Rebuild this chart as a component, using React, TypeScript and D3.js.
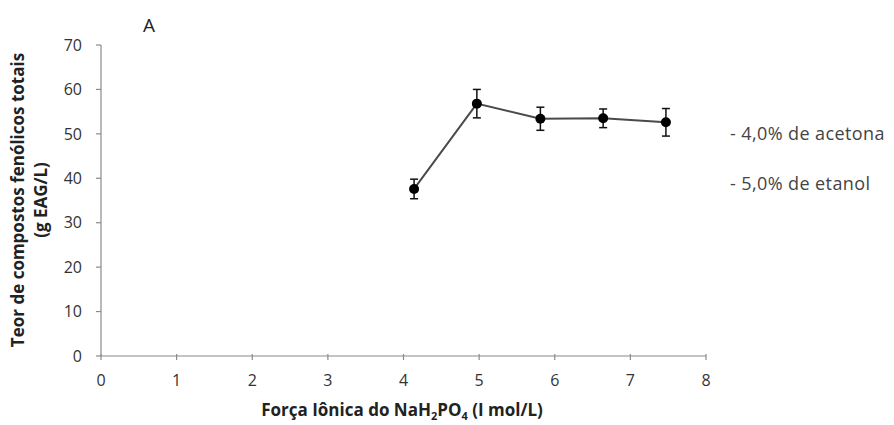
import React from "react";
import * as d3 from "d3";

// Ionic strength of NaH2PO4 (I mol/L) and total phenolic content (g EAG/L)
const ionicStrength = [4.14, 4.97, 5.81, 6.64, 7.47];
const phenolics = [37.6, 56.8, 53.4, 53.5, 52.6];
const errors = [2.2, 3.2, 2.6, 2.1, 3.1];
const xTicks = [0, 1, 2, 3, 4, 5, 6, 7, 8];
const yTicks = [0, 10, 20, 30, 40, 50, 60, 70];
const notes = ["- 4,0% de acetona", "- 5,0% de etanol"];

const W = 894;
const H = 425;
const left = 101;
const right = 706;
const top = 45;
const bottom = 356;

export default function App() {
  const x = d3.scaleLinear().domain([0, 8]).range([left, right]);
  const y = d3.scaleLinear().domain([0, 70]).range([bottom, top]);
  const pts = ionicStrength.map((v, i) => ({ x: v, y: phenolics[i], e: errors[i] }));
  const line = d3
    .line<{ x: number; y: number }>()
    .x((d) => x(d.x))
    .y((d) => y(d.y));
  const font = "Open Sans, sans-serif";
  const axisColor = "#8a8a8a";
  const textColor = "#333";

  return (
    <svg
      width={W}
      height={H}
      style={{ position: "absolute", left: 0, top: 0, background: "#fff" }}
      fontFamily={font}
    >
      <text x={149} y={32} fontSize={19} fill="#222" textAnchor="middle">A</text>

      {/* axes */}
      <line x1={left} x2={left} y1={y(70)} y2={y(0)} stroke={axisColor} strokeWidth={1.2} />
      <line x1={left} x2={right} y1={y(0)} y2={y(0)} stroke={axisColor} strokeWidth={1.2} />
      {yTicks.map((t) => (
        <g key={"y" + t}>
          <line x1={left - 5} x2={left} y1={y(t)} y2={y(t)} stroke={axisColor} strokeWidth={1.2} />
          <text x={82} y={y(t)} dy="0.36em" fontSize={16} fill={textColor} textAnchor="end">{t}</text>
        </g>
      ))}
      {xTicks.map((t) => (
        <g key={"x" + t}>
          <line x1={x(t)} x2={x(t)} y1={y(0) - 2} y2={y(0) + 4} stroke={axisColor} strokeWidth={1.2} />
          <text x={x(t)} y={y(0) + 30} fontSize={16} fill={textColor} textAnchor="middle">{t}</text>
        </g>
      ))}

      {/* y axis title */}
      <g transform={`translate(24,200) rotate(-90)`}>
        <text x={0} y={0} fontSize={17} fontWeight="bold" fill="#222" textAnchor="middle">
          Teor de compostos fenólicos totais
        </text>
        <text x={0} y={23} fontSize={17} fontWeight="bold" fill="#222" textAnchor="middle">
          (g EAG/L)
        </text>
      </g>

      {/* x axis title */}
      <text x={402} y={416} fontSize={17} fontWeight="bold" fill="#222" textAnchor="middle">
        Força Iônica do NaH
        <tspan fontSize={11} dy={4}>2</tspan>
        <tspan dy={-4}>PO</tspan>
        <tspan fontSize={11} dy={4}>4</tspan>
        <tspan dy={-4}> (I mol/L)</tspan>
      </text>

      {/* series */}
      <path d={line(pts) || ""} fill="none" stroke="#4a4a4a" strokeWidth={2} />
      {pts.map((p, i) => (
        <g key={"e" + i} stroke="#111" strokeWidth={1.5}>
          <line x1={x(p.x)} x2={x(p.x)} y1={y(p.y - p.e)} y2={y(p.y + p.e)} />
          <line x1={x(p.x) - 4} x2={x(p.x) + 4} y1={y(p.y - p.e)} y2={y(p.y - p.e)} />
          <line x1={x(p.x) - 4} x2={x(p.x) + 4} y1={y(p.y + p.e)} y2={y(p.y + p.e)} />
        </g>
      ))}
      {pts.map((p, i) => (
        <circle key={"c" + i} cx={x(p.x)} cy={y(p.y)} r={5} fill="#000" />
      ))}

      {notes.map((n, i) => (
        <text key={n} x={730} y={140 + i * 50} fontSize={18} letterSpacing={0.4} fill="#444">{n}</text>
      ))}
    </svg>
  );
}
